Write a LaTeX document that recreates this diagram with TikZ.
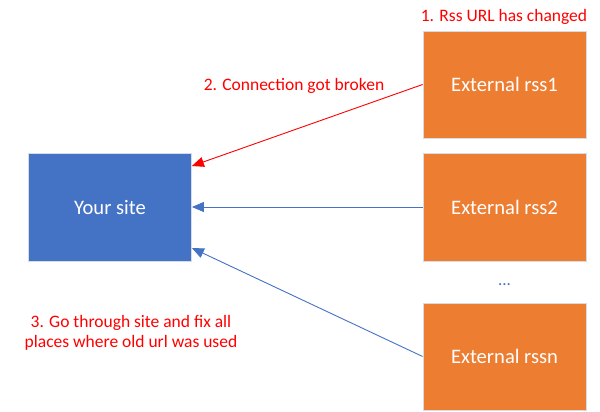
\documentclass[tikz,border=0pt]{standalone}
\usepackage{fontspec}
\setmainfont{Carlito}
\usetikzlibrary{arrows.meta}
\definecolor{officeblue}{HTML}{4472C4}
\definecolor{officeorange}{HTML}{ED7D31}
\definecolor{boxedge}{HTML}{D6DCE5}
\definecolor{redtxt}{HTML}{FF0000}
\tikzset{
  sitebox/.style={rectangle, draw=boxedge, line width=0.8pt, fill=officeblue, text=white,
    minimum width=163pt, minimum height=108pt, inner sep=0pt,
    font=\fontsize{20.6}{24}\selectfont},
  rssbox/.style={sitebox, fill=officeorange, minimum height=107pt},
  redlabel/.style={text=redtxt, font=\fontsize{17.5}{20}\selectfont, align=center, inner sep=0pt},
  link/.style={draw=officeblue, line width=0.9pt, -{Triangle[length=12pt,width=10pt]}},
  brokenlink/.style={link, draw=redtxt, -{Triangle[length=12pt,width=10pt]}}
}
\begin{document}
\begin{tikzpicture}[x=1pt,y=-1pt]
\useasboundingbox (0,0) rectangle (600,412);
\fill[white] (0,0) rectangle (600,412);
\node[sitebox] (site) at (110,207) {Your site};
\node[rssbox] (rss1) at (504.5,84.5) {External rss1};
\node[rssbox, minimum height=108pt] (rss2) at (504.5,207) {External rss2};
\node[rssbox] (rssn) at (504.5,356.5) {External rssn};
\node[text=officeblue, font=\fontsize{17}{20}\selectfont, inner sep=0pt] (dots) at (504.5,285) {...};
\node[redlabel] (l1) at (504,17) {1. Rss URL has changed};
\node[redlabel] (l2) at (294,86) {2. Connection got broken};
\node[redlabel] (l3) at (131,333) {3. Go through site and fix all\\places where old url was used};
\coordinate (siteTop) at ([yshift=41pt]site.east);
\coordinate (siteBot) at ([yshift=-41pt]site.east);
\draw[brokenlink] (rss1.west) -- (siteTop);
\draw[link] (rss2.west) -- (site.east);
\draw[link] (rssn.west) -- (siteBot);
\end{tikzpicture}
\end{document}
